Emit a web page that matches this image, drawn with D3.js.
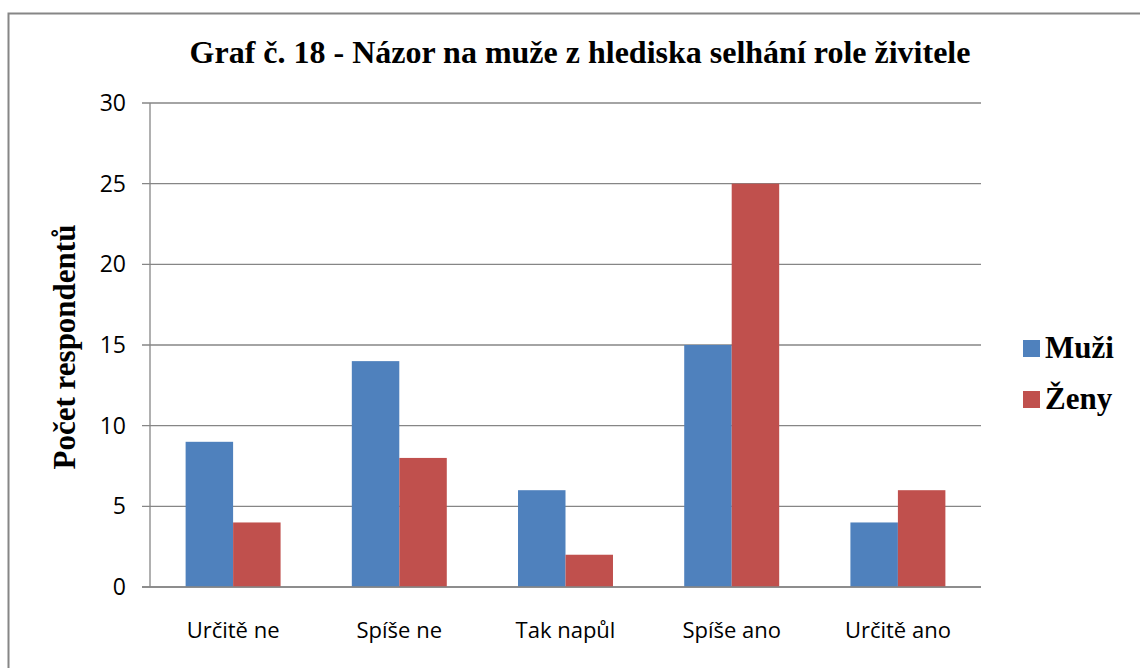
<!DOCTYPE html>
<html lang="cs">
<head>
    <meta charset="UTF-8">
    <title>Graf č. 18</title>
    <script src="https://d3js.org/d3.v7.min.js"></script>
    <style>
        body { margin: 0; background: #fff; }
        .grid line { stroke: #868686; stroke-width: 1.3px; }
    </style>
</head>
<body>
<svg width="1140" height="668"></svg>

<script>
    // chart data
    const categories = ["Určitě ne", "Spíše ne", "Tak napůl", "Spíše ano", "Určitě ano"];
    const series = ["Muži", "Ženy"];
    const muzi = [9, 14, 6, 15, 4];
    const zeny = [4, 8, 2, 25, 6];
    const yTicks = [0, 5, 10, 15, 20, 25, 30];
    const colors = ["#4F81BD", "#C0504D"];

    const values = [muzi, zeny];

    const svg = d3.select("svg");

    // outer frame (only top and left visible)
    svg.append("path")
        .attr("d", "M8.5,668 V13.5 H1140")
        .attr("fill", "none")
        .attr("stroke", "#868686")
        .attr("stroke-width", 2);

    const plotLeft = 150, plotRight = 981, plotTop = 103, plotBottom = 587;

    const x = d3.scaleBand().domain(categories).range([plotLeft, plotRight]);
    const xs = d3.scaleBand().domain(series).range([0, x.bandwidth()])
        .paddingInner(0).paddingOuter(0.75);
    const y = d3.scaleLinear().domain([0, 30]).range([plotBottom, plotTop]);

    // gridlines + y ticks
    const grid = svg.append("g").attr("class", "grid");
    grid.selectAll("line")
        .data(yTicks)
        .enter().append("line")
            .attr("x1", plotLeft - 8)
            .attr("x2", plotRight)
            .attr("y1", d => y(d))
            .attr("y2", d => y(d));

    svg.append("g")
        .selectAll("text")
        .data(yTicks)
        .enter().append("text")
            .attr("x", 126)
            .attr("y", d => y(d) + 8)
            .attr("text-anchor", "end")
            .style("font-family", "'Open Sans', sans-serif")
            .style("font-size", "23px")
            .text(d => d);

    // bars
    series.forEach((s, si) => {
        svg.append("g")
            .selectAll("rect")
            .data(categories)
            .enter().append("rect")
                .attr("x", d => x(d) + xs(s))
                .attr("width", xs.bandwidth())
                .attr("y", (d, i) => y(values[si][i]))
                .attr("height", (d, i) => y(0) - y(values[si][i]))
                .attr("fill", colors[si]);
    });

    // axes lines drawn on top
    svg.append("line")
        .attr("x1", plotLeft).attr("x2", plotLeft)
        .attr("y1", plotTop).attr("y2", plotBottom)
        .attr("stroke", "#868686").attr("stroke-width", 1.3);
    svg.append("line")
        .attr("x1", plotLeft - 8).attr("x2", plotRight)
        .attr("y1", plotBottom).attr("y2", plotBottom)
        .attr("stroke", "#868686").attr("stroke-width", 1.3);

    // x labels
    svg.append("g")
        .selectAll("text")
        .data(categories)
        .enter().append("text")
            .attr("x", d => x(d) + x.bandwidth() / 2)
            .attr("y", 638)
            .attr("text-anchor", "middle")
            .style("font-family", "'Open Sans', sans-serif")
            .style("font-size", "22px")
            .text(d => d);

    // title
    svg.append("text")
        .attr("x", 580)
        .attr("y", 63)
        .attr("text-anchor", "middle")
        .style("font-family", "'Liberation Serif', serif")
        .style("font-weight", "bold")
        .style("font-size", "32px")
        .text("Graf č. 18 - Názor na muže z hlediska selhání role živitele");

    // y axis title
    svg.append("text")
        .attr("transform", "translate(75,347) rotate(-90)")
        .attr("text-anchor", "middle")
        .style("font-family", "'Liberation Serif', serif")
        .style("font-weight", "bold")
        .style("font-size", "31px")
        .text("Počet respondentů");

    // legend
    const legend = svg.append("g").attr("transform", "translate(1023,340)");
    legend.selectAll("g")
        .data(series)
        .enter().append("g")
            .attr("transform", (d, i) => `translate(0,${i * 51})`)
            .each(function(d, i) {
                const g = d3.select(this);
                g.append("rect")
                    .attr("width", 17).attr("height", 17)
                    .attr("fill", colors[i]);
                g.append("text")
                    .attr("x", 22)
                    .attr("y", 18)
                    .style("font-family", "'Liberation Serif', serif")
                    .style("font-weight", "bold")
                    .style("font-size", "31px")
                    .text(d);
            });
</script>

</body>
</html>
